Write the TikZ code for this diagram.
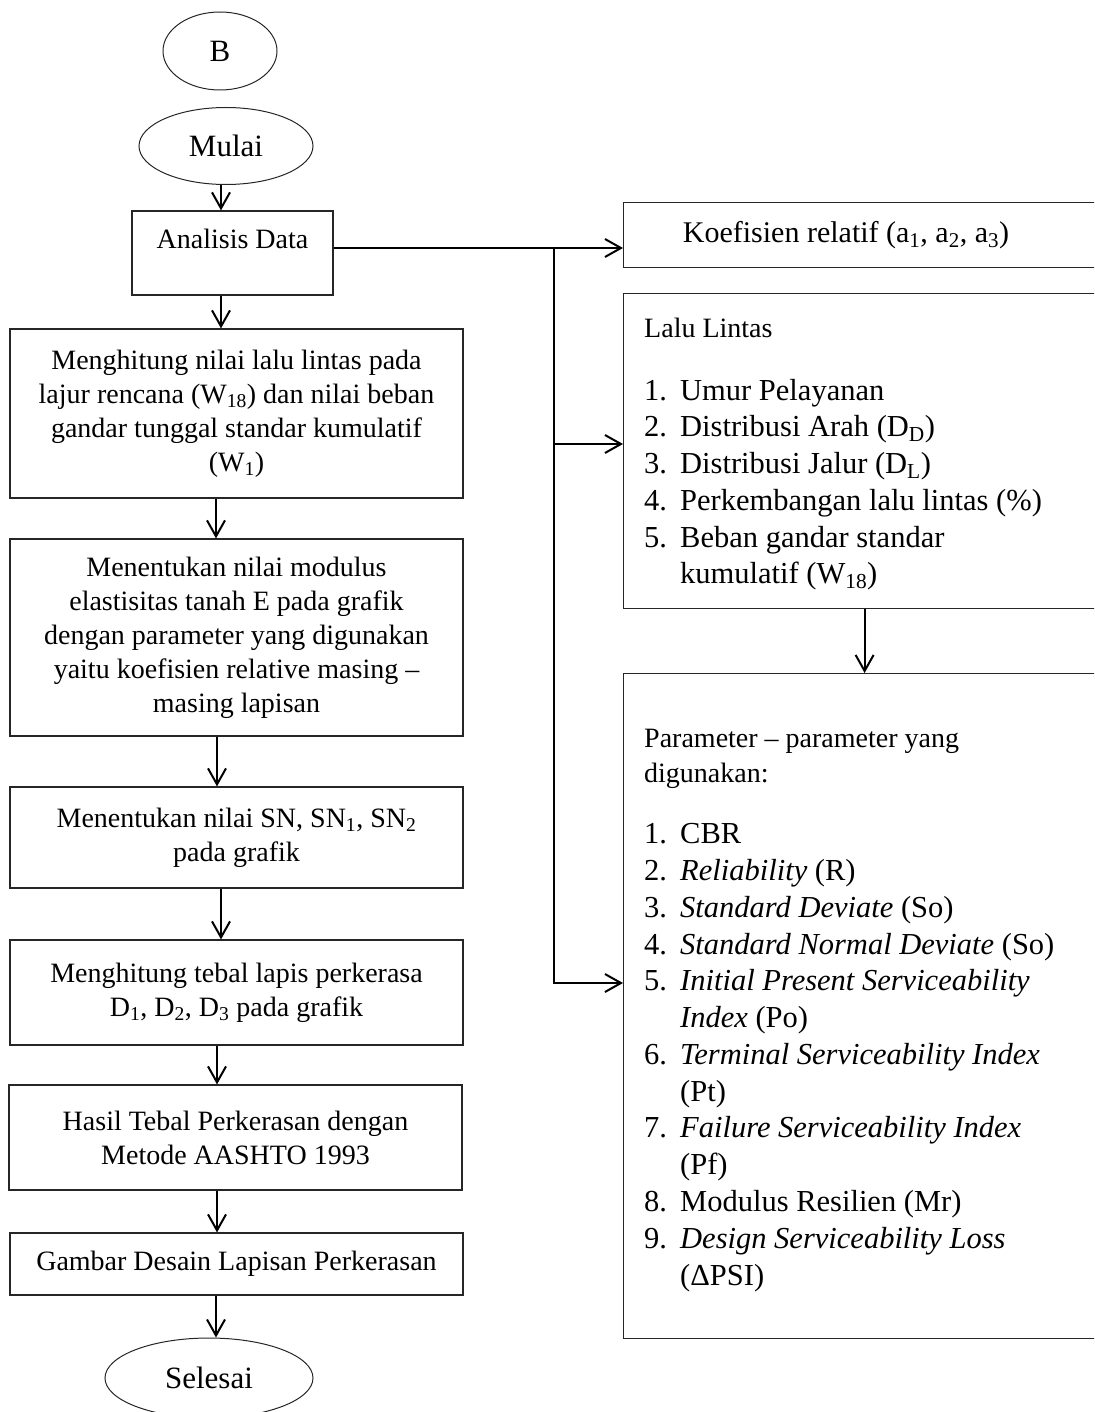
\documentclass[tikz,border=0pt]{standalone}
\usepackage{fontspec}
\setmainfont{Liberation Serif}
\usetikzlibrary{shapes.geometric,arrows.meta}
\begin{document}
\begin{tikzpicture}[x=1pt,y=-1pt,
 box/.style={draw=black!85, line width=1.2pt, rectangle, inner sep=0pt},
 ell/.style={draw=black!85, line width=1pt, ellipse, inner sep=0pt, font=\fontsize{31}{36}\selectfont},
 ltxt/.style={align=center, font=\fontsize{28}{34}\selectfont},
 htxt/.style={anchor=base west, inner sep=0pt, font=\fontsize{28}{35}\selectfont},
 itxt/.style={anchor=base west, inner sep=0pt, font=\fontsize{30.5}{37}\selectfont},
 arr/.style={line width=2pt, -{Straight Barb[length=16pt,width=18pt,line width=2pt]}},
 conn/.style={line width=2pt}]
\useasboundingbox (0,0) rectangle (1094,1412);
\clip (0,0) rectangle (1094,1412);

% left column
\node[ell, minimum width=114pt, minimum height=78pt] (b) at (220,51) {B};
\node[ell, minimum width=174pt, minimum height=77pt] (mulai) at (226,146) {Mulai};
\node[box, minimum width=201pt, minimum height=84pt] (analisis) at (232.5,253) {};
\node[ltxt, inner sep=0pt] (analisisT) at (232.5,239) {Analisis Data};
\node[box, ltxt, minimum width=453pt, minimum height=169pt] (n2) at (236.5,413.5)
 {Menghitung nilai lalu lintas pada\\ lajur rencana (W\textsubscript{18}) dan nilai beban\\ gandar tunggal standar kumulatif\\ (W\textsubscript{1})};
\node[box, ltxt, minimum width=453pt, minimum height=197pt] (n3) at (236.5,637.5)
 {Menentukan nilai modulus\\ elastisitas tanah E pada grafik\\ dengan parameter yang digunakan\\ yaitu koefisien relative masing –\\ masing lapisan};
\node[box, ltxt, minimum width=453pt, minimum height=101pt] (n4) at (236.5,837.5)
 {Menentukan nilai SN, SN\textsubscript{1}, SN\textsubscript{2}\\ pada grafik};
\node[box, ltxt, minimum width=453pt, minimum height=105pt] (n5) at (236.5,992.5)
 {Menghitung tebal lapis perkerasa\\ D\textsubscript{1}, D\textsubscript{2}, D\textsubscript{3} pada grafik};
\node[box, ltxt, minimum width=453pt, minimum height=105pt] (n6) at (235.5,1137.5)
 {Hasil Tebal Perkerasan dengan\\ Metode AASHTO 1993};
\node[box, ltxt, minimum width=453pt, minimum height=62pt] (n7) at (236.5,1264)
 {Gambar Desain Lapisan Perkerasan};
\node[ell, minimum width=208pt, minimum height=80pt] (selesai) at (209,1378) {Selesai};

% right column
\node[box, anchor=north west, minimum width=482pt, minimum height=65pt] (koef) at (623,202) {};
\node[ltxt, inner sep=0pt, font=\fontsize{30}{36}\selectfont] (koefT) at (846,235) {Koefisien relatif (a\textsubscript{1}, a\textsubscript{2}, a\textsubscript{3})};
\node[box, anchor=north west, minimum width=482pt, minimum height=315pt] (lalu) at (623,293) {};
\node[box, anchor=north west, minimum width=482pt, minimum height=665pt] (param) at (623,673) {};

\node[htxt] (llh) at (644,337) {Lalu Lintas};
\node[itxt] (l1n) at (644,400) {1.};  \node[itxt] (l1) at (680,400) {Umur Pelayanan};
\node[itxt] (l2n) at (644,436.5) {2.};  \node[itxt] (l2) at (680,436.5) {Distribusi Arah (D\textsubscript{D})};
\node[itxt] (l3n) at (644,473) {3.};  \node[itxt] (l3) at (680,473) {Distribusi Jalur (D\textsubscript{L})};
\node[itxt] (l4n) at (644,510) {4.};  \node[itxt] (l4) at (680,510) {Perkembangan lalu lintas (\%)};
\node[itxt] (l5n) at (644,547) {5.};  \node[itxt] (l5) at (680,547) {Beban gandar standar};
\node[itxt] (l5b) at (680,583) {kumulatif (W\textsubscript{18})};

\node[htxt] (ph1) at (644,747) {Parameter – parameter yang};
\node[htxt] (ph2) at (644,782) {digunakan:};
\node[itxt] (p1n) at (644,843) {1.}; \node[itxt] (p1) at (680,843) {CBR};
\node[itxt] (p2n) at (644,880) {2.}; \node[itxt] (p2) at (680,880) {\textit{Reliability} (R)};
\node[itxt] (p3n) at (644,917) {3.}; \node[itxt] (p3) at (680,917) {\textit{Standard Deviate} (So)};
\node[itxt] (p4n) at (644,954) {4.}; \node[itxt] (p4) at (680,954) {\textit{Standard Normal Deviate} (So)};
\node[itxt] (p5n) at (644,990) {5.}; \node[itxt] (p5) at (680,990) {\textit{Initial Present Serviceability}};
\node[itxt] (p5b) at (680,1027) {\textit{Index} (Po)};
\node[itxt] (p6n) at (644,1064) {6.}; \node[itxt] (p6) at (680,1064) {\textit{Terminal Serviceability Index}};
\node[itxt] (p6b) at (680,1101) {(Pt)};
\node[itxt] (p7n) at (644,1137) {7.}; \node[itxt] (p7) at (680,1137) {\textit{Failure Serviceability Index}};
\node[itxt] (p7b) at (680,1174) {(Pf)};
\node[itxt] (p8n) at (644,1211) {8.}; \node[itxt] (p8) at (680,1211) {Modulus Resilien (Mr)};
\node[itxt] (p9n) at (644,1248) {9.}; \node[itxt] (p9) at (680,1248) {\textit{Design Serviceability Loss}};
\node[itxt] (p9b) at (680,1285) {(ΔPSI)};

% connectors left
\draw[arr] ([xshift=-5pt]mulai.south) -- ([xshift=-11.5pt]analisis.north);
\draw[arr] ([xshift=-11.5pt]analisis.south) -- ([xshift=-15.5pt]n2.north);
\draw[arr] ([xshift=-20.5pt]n2.south) -- ([xshift=-20.5pt]n3.north);
\draw[arr] ([xshift=-19.5pt]n3.south) -- ([xshift=-19.5pt]n4.north);
\draw[arr] ([xshift=-15.5pt]n4.south) -- ([xshift=-15.5pt]n5.north);
\draw[arr] ([xshift=-19.5pt]n5.south) -- ([xshift=-18.5pt]n6.north);
\draw[arr] ([xshift=-18.5pt]n6.south) -- ([xshift=-19.5pt]n7.north);
\draw[arr] ([xshift=-20.5pt]n7.south) -- ([xshift=7pt]selesai.north);

% connectors right
\coordinate (jtop) at (554,248);
\coordinate (jlalu) at (554,444);
\coordinate (jparam) at (554,983);
\draw[arr] ([yshift=5pt]analisis.east) -- ([yshift=5pt]analisis.east -| koef.west);
\draw[arr] (jtop) -- (jparam) -- (jparam -| param.west);
\draw[arr] (jlalu) -- (jlalu -| lalu.west);
\draw[arr] (lalu.south) -- (param.north);
\end{tikzpicture}
\end{document}
